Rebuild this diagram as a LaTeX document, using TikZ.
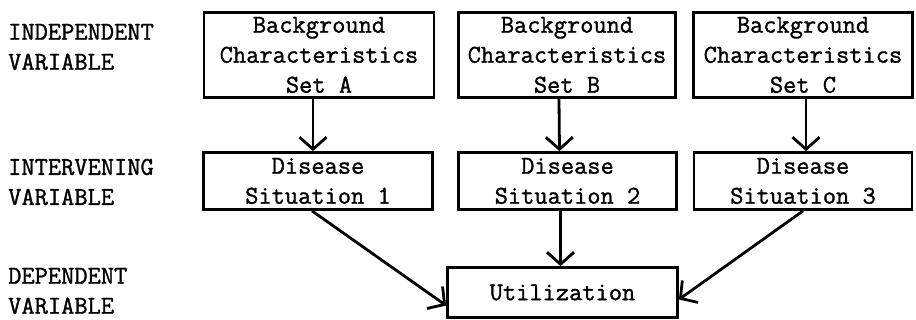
\documentclass[tikz,border=0pt]{standalone}
\usepackage{fontspec}
\newfontfamily\twfont{Latin Modern Mono}[FakeBold=1.2]
\usetikzlibrary{arrows.meta}
\begin{document}
\begin{tikzpicture}[x=1pt,y=-1pt,
  every node/.style={font=\twfont\fontsize{25.7}{30}\selectfont},
  box/.style={draw,line width=2.8pt,inner sep=0pt,align=center},
  lbl/.style={anchor=west,align=left,inner sep=0pt},
  conn/.style={line width=2.8pt,-{Straight Barb[length=12pt,width=27pt,line width=2.8pt]}}]
\useasboundingbox (0,0) rectangle (916,320);
% level labels
\node[lbl] (l1) at (8,47) {INDEPENDENT\\VARIABLE};
\node[lbl] (l2) at (8,182) {INTERVENING\\VARIABLE};
\node[lbl] (l3) at (8,291) {DEPENDENT\\VARIABLE};
% independent boxes
\node[box,minimum width=230pt,minimum height=85pt] (A) at (319,55) {Background\\Characteristics\\Set A};
\node[box,minimum width=217pt,minimum height=85pt] (B) at (567,55) {Background\\Characteristics\\Set B};
\node[box,minimum width=219pt,minimum height=85pt] (C) at (803,55) {Background\\Characteristics\\Set C};
% intervening boxes
\node[box,minimum width=229pt,minimum height=57pt] (D1) at (318,181) {Disease\\Situation 1};
\node[box,minimum width=218pt,minimum height=57pt] (D2) at (567.5,181) {Disease\\Situation 2};
\node[box,minimum width=218pt,minimum height=57pt] (D3) at (803,181) {Disease\\Situation 3};
% dependent box
\node[box,minimum width=230pt,minimum height=50pt] (U) at (562.5,292.5) {Utilization};
% connectors
\draw[conn] ([xshift=-6pt]A.south) -- ([xshift=-5pt]D1.north);
\draw[conn] ([xshift=-8pt]B.south) -- ([xshift=-8pt]D2.north);
\draw[conn] ([xshift=3pt]C.south) -- ([xshift=3pt]D3.north);
\draw[conn] ([xshift=-6pt]D1.south) -- ([yshift=-13pt]U.west);
\draw[conn] ([xshift=-7pt]D2.south) -- ([xshift=-2pt]U.north);
\draw[conn] (D3.south) -- ([yshift=-7pt]U.east);
\end{tikzpicture}
\end{document}
